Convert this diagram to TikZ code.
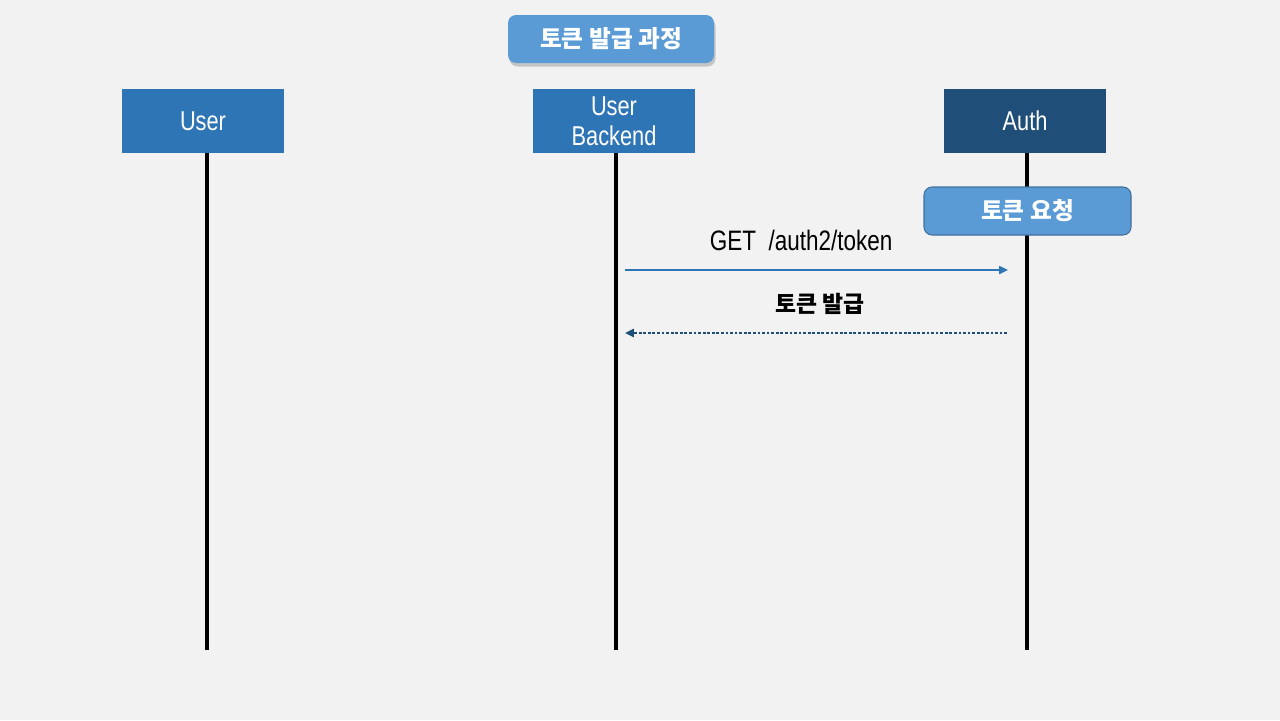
\documentclass[tikz,border=0pt]{standalone}
\usepackage{fontspec}
\setmainfont{Liberation Sans}[FakeStretch=0.8]
\newfontfamily\kr{Noto Sans CJK KR}
\usetikzlibrary{shadows,arrows.meta}
\definecolor{bg}{HTML}{F2F2F2}
\definecolor{actorblue}{HTML}{2E75B6}
\definecolor{authblue}{HTML}{1F4E79}
\definecolor{noteblue}{HTML}{5B9BD5}
\definecolor{noteline}{HTML}{41719C}
\tikzset{
  actor/.style={fill=actorblue, text=white, minimum width=162*0.02cm, minimum height=64*0.02cm, inner sep=0pt, font=\fontsize{15.5}{16}\selectfont, align=center},
  note/.style={rounded corners=0.16cm, fill=noteblue, text=white, minimum width=207*0.02cm, minimum height=48*0.02cm, font=\kr\bfseries\fontsize{13.5}{15}\selectfont},
  lifeline/.style={line width=2.3pt},
  msg/.style={draw=actorblue, line width=1.1pt, -{Triangle[length=5pt,width=4.5pt]}},
  reply/.style={draw=authblue, line width=1.7pt, dash pattern=on 1.6pt off 1pt, -{Triangle[length=5pt,width=4.5pt]}},
  msglabel/.style={text=black, anchor=center, font=\fontsize{16}{18}\selectfont}
}
\begin{document}
\begin{tikzpicture}[x=0.02cm, y=-0.02cm]
  \fill[bg] (0,0) rectangle (1280,720);
  \useasboundingbox (0,0) rectangle (1280,720);
  % title
  \node[note, minimum width=206*0.02cm, drop shadow={opacity=0.4, shadow xshift=0.03cm, shadow yshift=-0.07cm}] (title) at (611,39) {토큰\ 발급\ 과정};
  % actors
  \node[actor] (user) at (203,121) {User};
  \node[actor, font=\fontsize{15.5}{17}\selectfont] (backend) at (614,121) {User\\Backend};
  \node[actor, fill=authblue] (auth) at (1025,121) {Auth};
  % lifelines
  \coordinate (userEnd) at (207,650);
  \coordinate (backendEnd) at (616,650);
  \coordinate (authEnd) at (1027,650);
  \draw[lifeline] (user.south -| userEnd) -- (userEnd);
  \draw[lifeline] (backend.south -| backendEnd) -- (backendEnd);
  \draw[lifeline] (auth.south -| authEnd) -- (authEnd);
  % note on auth
  \node[note, draw=noteline, line width=0.6pt] (request) at (1027.5,211) {토큰\ 요청};
  % messages
  \coordinate (reqStart) at (625,270);
  \coordinate (reqEnd) at (1008,270);
  \coordinate (resStart) at (1007,333);
  \coordinate (resEnd) at (625,333);
  \draw[msg] (reqStart) -- node[msglabel, pos=0.46, yshift=0.6cm] (reqLabel) {GET\ \ /auth2/token} (reqEnd);
  \draw[reply] (resStart) -- node[msglabel, pos=0.49, yshift=0.58cm, font=\kr\bfseries\fontsize{13}{15}\selectfont] (resLabel) {토큰\ 발급} (resEnd);
\end{tikzpicture}
\end{document}
